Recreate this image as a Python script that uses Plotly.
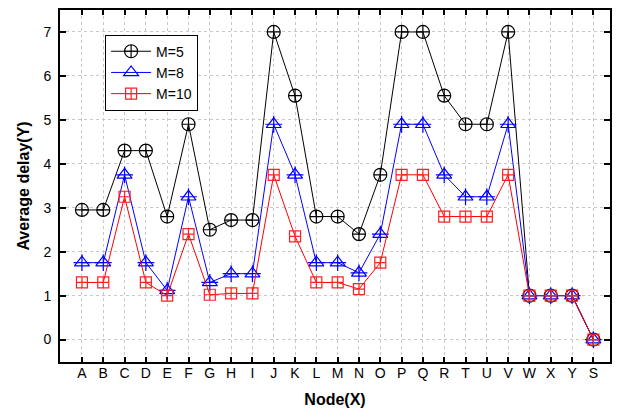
import plotly.graph_objects as go

nodes = ["A", "B", "C", "D", "E", "F", "G", "H", "I", "J", "K", "L", "M",
         "N", "O", "P", "Q", "R", "T", "U", "V", "W", "X", "Y", "S"]

delay_m5 = [2.95, 2.95, 4.3, 4.3, 2.8, 4.9, 2.5, 2.72, 2.72, 7.0, 5.55, 2.8, 2.8,
            2.4, 3.75, 7.0, 7.0, 5.55, 4.9, 4.9, 7.0, 1.0, 1.0, 1.0, 0.0]
delay_m8 = [1.75, 1.75, 3.75, 1.75, 1.12, 3.25, 1.3, 1.5, 1.5, 4.9, 3.75, 1.75, 1.75,
            1.52, 2.4, 4.9, 4.9, 3.75, 3.25, 3.25, 4.9, 1.0, 1.0, 1.0, 0.0]
delay_m10 = [1.3, 1.3, 3.25, 1.3, 1.0, 2.4, 1.02, 1.05, 1.05, 3.75, 2.35, 1.3, 1.3,
             1.15, 1.75, 3.75, 3.75, 2.8, 2.8, 2.8, 3.75, 1.0, 1.0, 1.0, 0.0]

x_idx = list(range(len(nodes)))
FONT = "Arial, Liberation Sans, sans-serif"

fig = go.Figure()

fig.add_trace(go.Scatter(
    x=x_idx, y=delay_m5, name="M=5", mode="lines+markers",
    line=dict(color="black", width=1),
    marker=dict(symbol="circle-cross-open", size=13, color="black",
                line=dict(width=1.2, color="black")),
))
fig.add_trace(go.Scatter(
    x=x_idx, y=delay_m8, name="M=8", mode="lines+markers", legendgroup="m8",
    line=dict(color="#0000ff", width=1),
    marker=dict(symbol="triangle-up-open", size=13, color="#0000ff",
                line=dict(width=1.2, color="#0000ff")),
))
# plus sign inside each triangle
fig.add_trace(go.Scatter(
    x=x_idx, y=delay_m8, mode="markers", legendgroup="m8", showlegend=False,
    hoverinfo="skip",
    marker=dict(symbol="cross-thin-open", size=12, color="#0000ff",
                line=dict(width=1.2, color="#0000ff")),
))
fig.add_trace(go.Scatter(
    x=x_idx, y=delay_m10, name="M=10", mode="lines+markers",
    line=dict(color="#ff0000", width=1),
    marker=dict(symbol="square-cross-open", size=11, color="#ff2020",
                line=dict(width=1.2, color="#ff2020")),
))

fig.update_layout(
    width=618, height=413,
    margin=dict(l=60, r=6, t=10, b=51),
    plot_bgcolor="white", paper_bgcolor="white",
    font=dict(family=FONT, size=13, color="black"),
    showlegend=True,
    legend=dict(
        x=0.082, y=0.93, xanchor="left", yanchor="top",
        bgcolor="white", bordercolor="black", borderwidth=1,
        font=dict(family=FONT, size=14, color="black"),
        tracegroupgap=0, itemwidth=40,
    ),
)

fig.update_xaxes(
    range=[-1.03, 24.78],
    tickmode="array", tickvals=x_idx, ticktext=nodes,
    ticks="inside", ticklen=5, tickwidth=1.5, tickcolor="black",
    showline=True, linecolor="black", linewidth=2, mirror="ticks",
    showgrid=True, gridcolor="#c8c8c8", griddash="dot", gridwidth=1,
    zeroline=False, ticklabelstandoff=-3,
    tickfont=dict(family=FONT, size=14, color="black"),
    title=dict(text="<b>Node(X)</b>", standoff=14,
               font=dict(family=FONT, size=16, color="black")),
)
fig.update_yaxes(
    range=[-0.51, 7.5],
    tickmode="array", tickvals=list(range(8)),
    ticks="inside", ticklen=6, tickwidth=1.5, tickcolor="black",
    showline=True, linecolor="black", linewidth=2, mirror="ticks",
    showgrid=True, gridcolor="#c8c8c8", griddash="dot", gridwidth=1,
    zeroline=False, ticklabelstandoff=4,
    tickfont=dict(family=FONT, size=14, color="black"),
    title=dict(text="<b>Average delay(Y)</b>", standoff=10,
               font=dict(family=FONT, size=16, color="black")),
)

fig.write_html("out.html")
